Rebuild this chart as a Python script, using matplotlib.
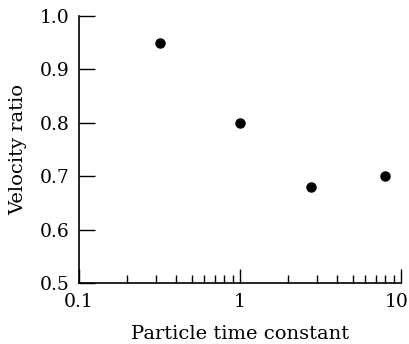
import matplotlib
matplotlib.use("Agg")
import matplotlib.pyplot as plt
import matplotlib.transforms as mtransforms
from matplotlib.ticker import FixedLocator, LogLocator, NullFormatter, FixedFormatter

x_vals = [0.32, 1.0, 2.77, 7.95]
y_vals = [0.95, 0.80, 0.68, 0.70]
x_ticks = [0.1, 1, 10]
x_ticklabels = ["0.1", "1", "10"]
y_ticks = [0.5, 0.6, 0.7, 0.8, 0.9, 1.0]
y_ticklabels = ["0.5", "0.6", "0.7", "0.8", "0.9", "1.0"]

plt.rcParams['font.family'] = ['DejaVu Serif']

fig = plt.figure(figsize=(4.10, 3.44), dpi=100)
ax = fig.add_axes([79/410, 1 - 283/344, (401-79)/410, (283-16)/344])

ax.plot(x_vals, y_vals, 'o', color='black', markersize=6.5)

ax.set_xscale('log')
ax.set_xlim(0.1, 10)
ax.set_ylim(0.5, 1.0)

ax.xaxis.set_major_locator(FixedLocator(x_ticks))
ax.xaxis.set_major_formatter(FixedFormatter(x_ticklabels))
ax.xaxis.set_minor_locator(LogLocator(base=10, subs=range(2, 10)))
ax.xaxis.set_minor_formatter(NullFormatter())
ax.yaxis.set_major_locator(FixedLocator(y_ticks))
ax.yaxis.set_major_formatter(FixedFormatter(y_ticklabels))

for s in ['top', 'right']:
    ax.spines[s].set_visible(False)
for s in ['left', 'bottom']:
    ax.spines[s].set_linewidth(1.2)

ax.tick_params(axis='y', which='major', direction='in', length=11.5, width=1.0,
               labelsize=13.5, pad=7)
ax.tick_params(axis='x', which='major', direction='in', length=10, width=1.0,
               labelsize=13.5, pad=7)
ax.tick_params(axis='x', which='minor', direction='in', length=6, width=1.0)

ax.set_xlabel("Particle time constant", fontsize=14, labelpad=10)
ax.set_ylabel("Velocity ratio", fontsize=14, labelpad=9)

fig.canvas.draw()
last = ax.xaxis.get_major_ticks()[-1].label1
last.set_transform(last.get_transform() +
                   mtransforms.ScaledTranslation(-4/100, 0, fig.dpi_scale_trans))

fig.savefig("out.png", dpi=100)
